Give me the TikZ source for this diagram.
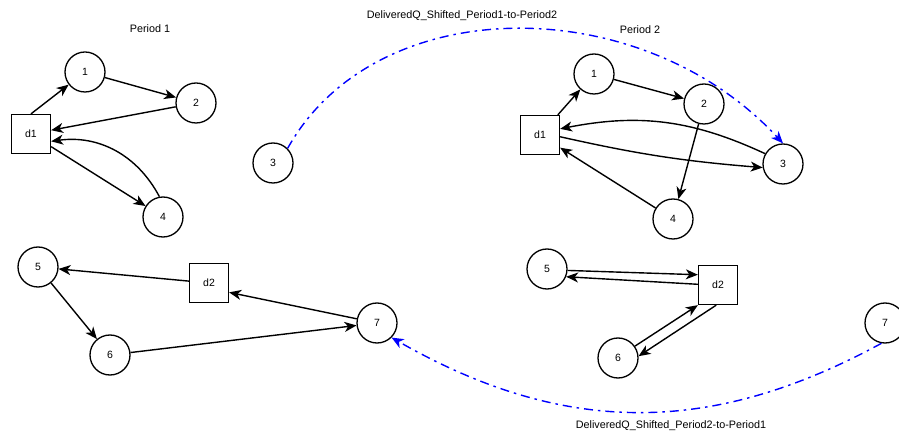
\documentclass[tikz,border=0pt]{standalone}
\usepackage{fontspec}
\setmainfont{Liberation Sans}
\usetikzlibrary{arrows.meta}
\tikzset{
  kunde/.style={draw, circle, line width=1.3pt, minimum size=40pt, inner sep=0pt, font=\fontsize{10.5}{12}\selectfont},
  depot/.style={draw, rectangle, line width=1.3pt, minimum size=39pt, inner sep=0pt, font=\fontsize{10.5}{12}\selectfont},
  fahrt/.style={-{Stealth[length=12pt,width=10pt,inset=3.5pt]}, line width=1.4pt},
  verschoben/.style={fahrt, blue, dash pattern=on 9pt off 5pt on 2.5pt off 5pt},
  titel/.style={font=\fontsize{10.8}{12}\selectfont}
}
\begin{document}
\begin{tikzpicture}[x=1pt, y=-1pt]
  \useasboundingbox (0,0) rectangle (899,435);
  % Periode 1
  \node[titel] (titel1) at (150,29) {Period 1};
  \node[depot] (p1d1) at (31,134) {d1};
  \node[kunde] (p1n1) at (85,72) {1};
  \node[kunde] (p1n2) at (196,103) {2};
  \node[kunde] (p1n3) at (273,163) {3};
  \node[kunde] (p1n4) at (163,217) {4};
  \node[depot] (p1d2) at (209,283) {d2};
  \node[kunde] (p1n5) at (38,267) {5};
  \node[kunde] (p1n6) at (110,355) {6};
  \node[kunde] (p1n7) at (377,323) {7};
  \draw[fahrt] (p1d1.north) -- (p1n1);
  \draw[fahrt] (p1n1) -- (p1n2);
  \draw[fahrt] (p1n2) -- (p1d1);
  \draw[fahrt] (p1d1) -- (p1n4);
  \draw[fahrt] (p1n4.100) to[bend right=35] (p1d1.-20);
  \draw[fahrt] (p1d2) -- (p1n5);
  \draw[fahrt] (p1n5) -- (p1n6);
  \draw[fahrt] (p1n6) -- (p1n7);
  \draw[fahrt] (p1n7) -- (p1d2.-25);
  % Periode 2
  \node[titel] (titel2) at (640,30) {Period 2};
  \node[depot] (p2d1) at (540,135) {d1};
  \node[kunde] (p2n1) at (594,74) {1};
  \node[kunde] (p2n2) at (704,104) {2};
  \node[kunde] (p2n3) at (783,164) {3};
  \node[kunde] (p2n4) at (673,219) {4};
  \node[depot] (p2d2) at (718,285) {d2};
  \node[kunde] (p2n5) at (547,269) {5};
  \node[kunde] (p2n6) at (618,358) {6};
  \node[kunde] (p2n7) at (885,323) {7};
  \draw[fahrt] (p2d1) -- (p2n1);
  \draw[fahrt] (p2n1) -- (p2n2);
  \draw[fahrt] (p2n2) -- (p2n4);
  \draw[fahrt] (p2n4) -- (p2d1);
  \draw[fahrt] (p2d1.-5) to[bend right=4] (p2n3.190);
  \draw[fahrt] (p2n3.150) to[bend right=18] (p2d1.17);
  \draw[fahrt] (p2n5.-4) -- (p2d2.153);
  \draw[fahrt] (p2d2.178) -- (p2n5.-22);
  \draw[fahrt] (p2n6.35) -- (p2d2.south west);
  \draw[fahrt] (p2d2.-95) -- (p2n6.5);
  % Verschiebungen
  \draw[verschoben] (p1n3.45) .. controls (376,-10) and (641,-10) .. (p2n3.north);
  \node[titel] (shift12) at (462,16) {DeliveredQ\_Shifted\_Period1-to-Period2};
  \draw[verschoben] (p2n7.-100) .. controls (711,436) and (564,436) .. (p1n7.-45);
  \node[titel] (shift21) at (671,426) {DeliveredQ\_Shifted\_Period2-to-Period1};
\end{tikzpicture}
\end{document}
